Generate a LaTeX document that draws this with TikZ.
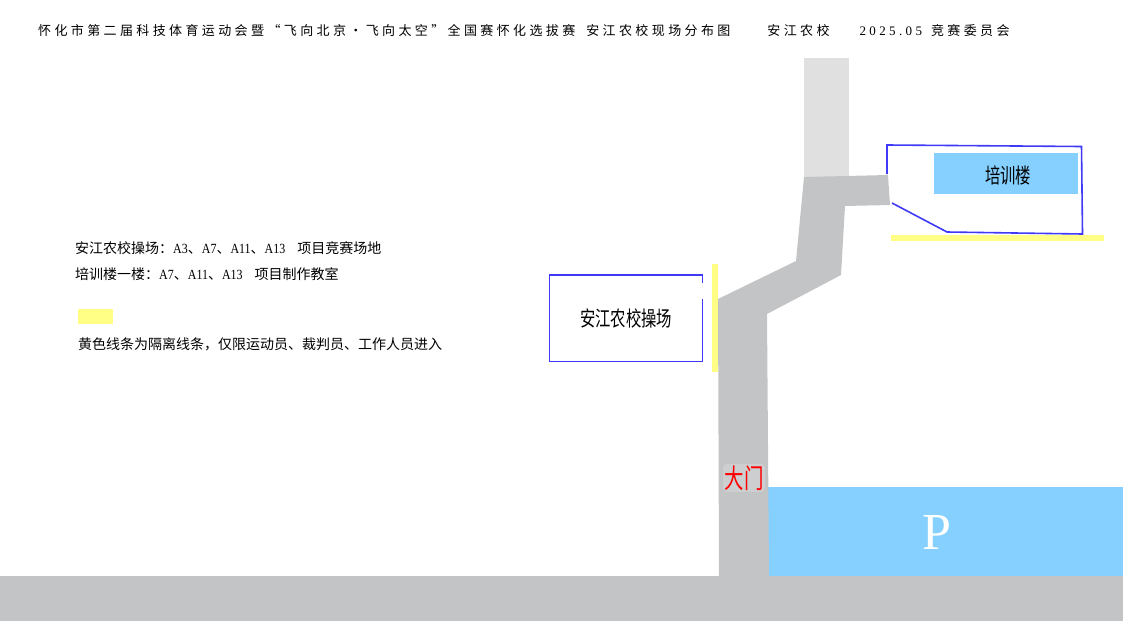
\documentclass[tikz,border=0pt]{standalone}
\usepackage{fontspec}
\setmainfont{Noto Sans CJK SC}
\newfontfamily\titlefont[LetterSpace=26]{Noto Sans CJK SC}
\newfontfamily\titlelatin[LetterSpace=26]{Liberation Serif}
\newfontfamily\notelatin[FakeStretch=.857]{Liberation Serif}
\newfontfamily\parkfont{Liberation Serif}
\newfontfamily\tallfont[FakeStretch=.73]{Noto Sans CJK SC}
\newfontfamily\gatefont[FakeStretch=.72]{Noto Sans CJK SC}
\definecolor{roadgray}{HTML}{C3C4C6}
\definecolor{lightroad}{HTML}{E0E0E0}
\definecolor{skyblue}{HTML}{85D0FF}
\definecolor{linepurple}{HTML}{3F3AF5}
\definecolor{fenceyellow}{HTML}{FFFF85}
\tikzset{
  boundary/.style={draw=linepurple, line width=1.6pt, line join=miter},
  title/.style={anchor=west, inner sep=0pt, font=\titlefont\fontsize{13}{15}\selectfont},
  note/.style={anchor=west, inner sep=0pt, font=\fontsize{14}{16}\selectfont},
  sitelabel/.style={inner sep=0pt, font=\tallfont\fontsize{21}{23}\selectfont},
}

\begin{document}
\begin{tikzpicture}[x=1pt, y=-1pt]
    \useasboundingbox (0,0) rectangle (1123,632);

    \fill[lightroad] (804,58) rectangle (849,178);
    \fill[roadgray] (0,576) rectangle (1123,621);
    \fill[skyblue] (768,487) rectangle (1123,576);
    \fill[roadgray] (804,177) -- (888,175) -- (890,205) -- (845,206) -- (841,275) -- (767,314)
      -- (769,577) -- (719,577) -- (718,299) -- (796,261) -- cycle;

    \fill[fenceyellow] (712,264) rectangle (718,372);
    \fill[fenceyellow] (891,235) rectangle (1104,241);
    \fill[fenceyellow] (78,309) rectangle (113,324);

    \draw[boundary] (702.5,283) -- (702.5,275) -- (549.5,275) -- (549.5,361.5) -- (702.5,361.5) -- (702.5,299);
    \draw[boundary] (887,174) -- (887,145) -- (1081.5,146.5) -- (1082.5,234) -- (947,232) -- (892,203);
    \fill[skyblue] (934,153) rectangle (1078,194);

    \node[title] (title) at (38,30.5) {怀化市第二届科技体育运动会暨“飞向北京·飞向太空”全国赛怀化选拔赛\hspace{11pt}安江农校现场分布图\hspace{37pt}安江农校\hspace{30pt}{\titlelatin 2025.05}\hspace{9pt}竞赛委员会};

    \node[note] (note1) at (75,248) {安江农校操场：{\notelatin A3}、{\notelatin A7}、{\notelatin A11}、{\notelatin A13}\hspace{12pt}项目竞赛场地};
    \node[note] (note2) at (75,274) {培训楼一楼：{\notelatin A7}、{\notelatin A11}、{\notelatin A13}\hspace{12pt}项目制作教室};
    \node[note] (note3) at (78,344) {黄色线条为隔离线条，仅限运动员、裁判员、工作人员进入};

    \node[sitelabel] (field) at (626,318) {安江农校操场};
    \node[sitelabel] (training) at (1008,175) {培训楼};
    \node[inner sep=1.5pt, rounded corners=4pt, fill=white, fill opacity=.18, text opacity=1, text=red,
      font=\gatefont\fontsize{27}{29}\selectfont] (gate) at (744,478) {大门};
    \node[inner sep=0pt, text=white, font=\parkfont\fontsize{52}{54}\selectfont] (parking) at (937,532) {P};
  \end{tikzpicture}
\end{document}
